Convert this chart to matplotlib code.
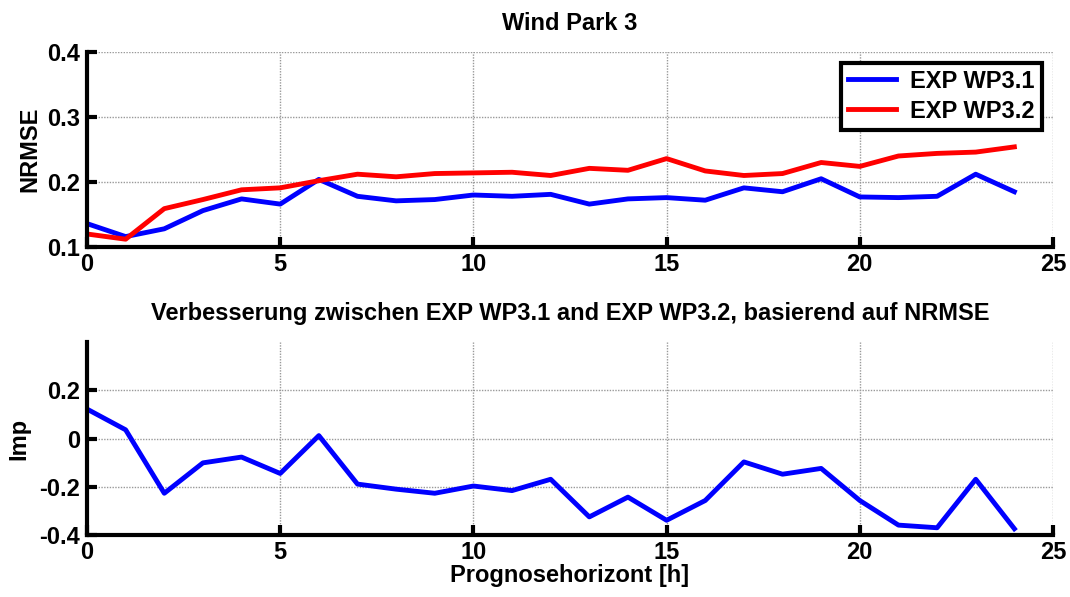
import matplotlib
matplotlib.use("Agg")
import matplotlib.pyplot as plt
import numpy as np

plt.rcParams['font.family'] = ['Liberation Sans', 'DejaVu Sans']
plt.rcParams['font.weight'] = 'bold'

hours = list(range(25))
exp_wp31 = [0.136, 0.116, 0.128, 0.156, 0.174, 0.166, 0.204, 0.178, 0.171, 0.173,
            0.180, 0.178, 0.181, 0.166, 0.174, 0.176, 0.172, 0.191, 0.185, 0.205,
            0.177, 0.176, 0.178, 0.212, 0.185]
exp_wp32 = [0.120, 0.112, 0.159, 0.173, 0.188, 0.191, 0.202, 0.212, 0.208, 0.213,
            0.214, 0.215, 0.210, 0.221, 0.218, 0.236, 0.217, 0.210, 0.213, 0.230,
            0.224, 0.240, 0.244, 0.246, 0.254]
improvement = [0.122, 0.036, -0.227, -0.101, -0.077, -0.145, 0.012, -0.189, -0.210, -0.227,
               -0.197, -0.216, -0.169, -0.325, -0.243, -0.339, -0.257, -0.097, -0.148, -0.124,
               -0.257, -0.359, -0.370, -0.169, -0.374]

top_yticks = [0.1, 0.2, 0.3, 0.4]
bot_yticks = [-0.4, -0.2, 0, 0.2]
xticks = [0, 5, 10, 15, 20, 25]

FS = 17

fig = plt.figure(figsize=(10.70, 5.97), dpi=100)
W, H = 1070, 597
ax1 = fig.add_axes([87 / W, 1 - 247 / H, (1053 - 87) / W, (247 - 52) / H])
ax2 = fig.add_axes([87 / W, 1 - 535 / H, (1053 - 87) / W, (535 - 342) / H])

def style(ax):
    for s in ['top', 'right']:
        ax.spines[s].set_visible(False)
    for s in ['left', 'bottom']:
        ax.spines[s].set_linewidth(3)
    ax.tick_params(direction='in', length=7, width=3, labelsize=FS)
    ax.tick_params(axis='y', pad=5)
    ax.tick_params(axis='x', pad=4)
    ax.grid(True, color='#999999', linestyle=(0, (1, 1)), linewidth=1.0)
    ax.set_axisbelow(True)
    for lab in ax.get_xticklabels() + ax.get_yticklabels():
        lab.set_fontweight('bold')

ax1.plot(hours, exp_wp31, color='#0000ff', linewidth=3.5, label='EXP WP3.1')
ax1.plot(hours, exp_wp32, color='#ff0000', linewidth=3.5, label='EXP WP3.2')
ax1.set_xlim(0, 25)
ax1.set_ylim(0.1, 0.4)
ax1.set_xticks(xticks)
ax1.set_yticks(top_yticks)
ax1.set_yticklabels(['0.1', '0.2', '0.3', '0.4'])
style(ax1)
ax1.set_ylabel('NRMSE', fontsize=FS, fontweight='bold', labelpad=4)
ax1.set_title('Wind Park 3', fontsize=FS, fontweight='bold', pad=16)
leg = ax1.legend(loc='upper right', bbox_to_anchor=(0.993, 0.97), fontsize=FS,
                 frameon=True, fancybox=False, handlelength=2.0, borderpad=0.3,
                 labelspacing=0.3, handletextpad=0.6, borderaxespad=0.2)
leg.get_frame().set_edgecolor('black')
leg.get_frame().set_linewidth(3)
leg.get_frame().set_alpha(1)
for t in leg.get_texts():
    t.set_fontweight('bold')

ax2.plot(hours, improvement, color='#0000ff', linewidth=3.5)
ax2.set_xlim(0, 25)
ax2.set_ylim(-0.4, 0.4)
ax2.set_xticks(xticks)
ax2.set_yticks(bot_yticks)
ax2.set_yticklabels(['-0.4', '-0.2', '0', '0.2'])
style(ax2)
ax2.set_ylabel('Imp', fontsize=FS, fontweight='bold', labelpad=6)
ax2.set_xlabel('Prognosehorizont [h]', fontsize=FS, fontweight='bold', labelpad=0)
ax2.set_title('Verbesserung zwischen EXP WP3.1 and EXP WP3.2, basierend auf NRMSE',
              fontsize=FS, fontweight='bold', pad=16)

fig.savefig('out.png', dpi=100, facecolor='white')
